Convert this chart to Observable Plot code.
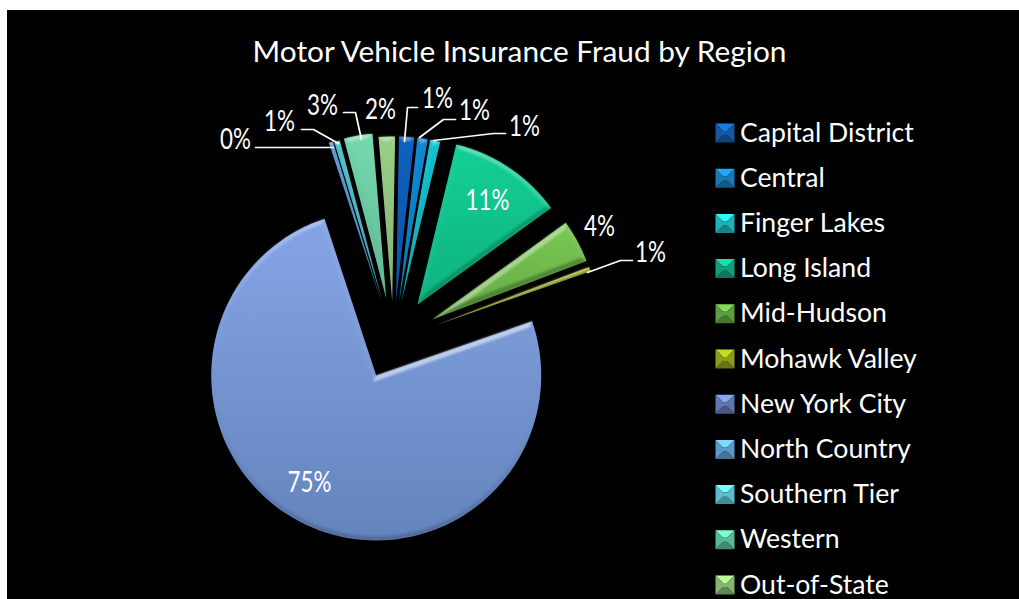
<!DOCTYPE html>
<html><head><meta charset="utf-8">
<script src="https://cdn.jsdelivr.net/npm/d3@7"></script>
<script src="https://cdn.jsdelivr.net/npm/@observablehq/plot@0.6"></script>
<style>
html,body{margin:0;padding:0;background:#fff}
svg{display:block}
</style></head><body><div id="chart"></div>
<script>
// Chart values, clockwise from just right of 12 o'clock
const regions = ["Capital District","Central","Finger Lakes","Long Island","Mid-Hudson","Mohawk Valley","New York City","North Country","Southern Tier","Western","Out-of-State"];
const shares  = [1.5,1.0,1.0,11.25,4.2,0.45,75.25,0.4,0.55,2.8,1.6];
const percentLabels = ["1%","1%","1%","11%","4%","1%","75%","0%","1%","3%","2%"];
const explosions = [39,39,39,43,44,44,39,43,42,43,39];
const colors = ["#0f62c0","#1189d6","#14c3d0","#12d096","#78c852","#a6b81e","#7f9fe2","#5c9bd8","#4fc3cc","#74d9ae","#9bd088"];
const swatchColors = ["#14589f","#1a78b4","#1fb0b8","#12a07c","#5e9c42","#8c9c1a","#5f76ac","#5a9aca","#5abccc","#58b898","#84b470"];
// Layout
const W=1019,H=599, cx=393, cy=340, R=165, startAngle=1, arcInset=4, sideInset=5;
const rad=d=>d*Math.PI/180;
const polar=(o,a,r)=>[o[0]+r*Math.sin(rad(a)),o[1]-r*Math.cos(rad(a))];
const total=d3.sum(shares);
let acc=startAngle;
const slices=regions.map((name,i)=>{
  const a0=acc,a1=acc+shares[i]/total*360;acc=a1;
  const mid=(a0+a1)/2,origin=polar([cx,cy],mid,explosions[i]);
  return {name,i,a0,a1,mid,origin};
});
const arcAngles=(a,b,step=2.5)=>{const n=Math.max(1,Math.ceil((b-a)/step));return d3.range(n+1).map(k=>a+(b-a)*k/n)};
const pieRows=[],facetRows=[];
let fid=0;
for(const s of slices){
  const h=(s.a1-s.a0)/2;
  const outer=arcAngles(s.a0,s.a1).map(a=>polar(s.origin,a,R));
  const d=Math.min(sideInset/Math.sin(rad(Math.min(h,179))),R-arcInset-2);
  const innerApex=polar(s.origin,s.mid,d);
  const delta=Math.min(sideInset/(R-arcInset),rad(h)*0.8)*180/Math.PI;
  const inner=arcAngles(s.a0,s.a1).map(a=>polar(s.origin,s.a0+delta+(a-s.a0)*(s.a1-s.a0-2*delta)/(s.a1-s.a0),R-arcInset));
  [s.origin,...outer].forEach(p=>pieRows.push({s:s.i,x:p[0],y:p[1]}));
  const addFacet=(p,q,pi,qi,k)=>{
    const dx=q[0]-p[0],L=Math.hypot(dx,q[1]-p[1])||1;
    const up=dx/L;
    const shade=up>0?"#ffffff":"#000000";
    const op=(up>0?0.6*up*up:0.3*up*up)*k;
    const id=fid++;
    [p,q,qi,pi].forEach(v=>facetRows.push({id,x:v[0],y:v[1],shade,op}));
  };
  addFacet(s.origin,outer[0],innerApex,inner[0],1);
  for(let k=0;k<outer.length-1;k++) addFacet(outer[k],outer[k+1],inner[k],inner[k+1],0.65);
  addFacet(outer[outer.length-1],s.origin,inner[inner.length-1],innerApex,1);
}
const leaders=[
 [[255,147],[333,147]],
 [[301,129],[313,129],[338,143]],
 [[343,112],[355,112],[361,139]],
 [[417,107],[407,107],[404,141]],
 [[455,119],[443,119],[419,137]],
 [[505,133],[493,133],[433,140]],
 [[632,260],[620,260],[587,272]]
].flatMap((l,id)=>l.map(p=>({id,x:p[0],y:p[1]})));
const labelSpots=[[437,99],[474,111],[524,127],[487,201],[599,227],[650,253],[309,483],[235,140],[279,122],[322,106],[380,110]];
const labelRows=percentLabels.map((t,i)=>({t,x:labelSpots[i][0],y:labelSpots[i][1]}));
const legendTop=132.5,legendStep=45.2,swX=724.5,swH=9.5;
const legendRows=regions.map((name,i)=>({name,y:legendTop+i*legendStep,x:739.5}));
const swRows=regions.flatMap((name,i)=>{
  const y=legendTop+i*legendStep,c=d3.color(swatchColors[i]);
  const e=7.5;
  const tl=[swX-swH,y-swH],tr=[swX+swH,y-swH],br=[swX+swH,y+swH],bl=[swX-swH,y+swH],
        itl=[swX-swH+e,y-swH+e],itr=[swX+swH-e,y-swH+e],ibr=[swX+swH-e,y+swH-e],ibl=[swX-swH+e,y+swH-e];
  const faces=[[[tl,tr,itr,itl],c.brighter(0.95)],[[tr,br,ibr,itr],c],[[br,bl,ibl,ibr],c.darker(0.8)],[[bl,tl,itl,ibl],c],[[itl,itr,ibr,ibl],c]];
  return faces.flatMap(([f,col],k)=>f.map(p=>({id:i*10+k,x:p[0],y:p[1],col:col.formatHex()})));
});
const gradients=()=>{
  const defs=d3.create("svg:defs");
  colors.forEach((c,i)=>{
    const g=defs.append("linearGradient").attr("id","pie"+i).attr("x1",0).attr("y1",0).attr("x2",0).attr("y2",1);
    const col=d3.color(c);
    g.append("stop").attr("offset","0%").attr("stop-color",i===6?"#84a4e6":col.formatHex());
    g.append("stop").attr("offset","100%").attr("stop-color",i===6?"#6484bc":col.darker(0.45).formatHex());
  });
  return defs.node();
};
// Percent labels are set in a tall, narrow face: condense each text element horizontally
const condense=(index,scales,values,dims,context,next)=>{
  const g=next(index,scales,values,dims,context);
  g.querySelectorAll("text").forEach(t=>t.setAttribute("transform",(t.getAttribute("transform")||"")+" scale(0.8,1)"));
  return g;
};
const chart=Plot.plot({
  width:W,height:H,margin:0,
  style:{background:"#fff"},
  x:{domain:[0,W],range:[0,W],axis:null},
  y:{domain:[0,H],range:[0,H],axis:null},
  color:{type:"identity"},
  marks:[
    gradients,
    Plot.rect([{}],{x1:()=>7,x2:()=>W,y1:()=>10,y2:()=>H,fill:"#000"}),
    ...slices.map(s=>Plot.line(pieRows.filter(r=>r.s===s.i),{x:"x",y:"y",fill:`url(#pie${s.i})`,stroke:"none",imageFilter:"blur(.3px)"})),
    Plot.line(facetRows,{x:"x",y:"y",z:"id",fill:"shade",fillOpacity:"op",stroke:"none",imageFilter:"blur(.8px)"}),
    Plot.line(leaders,{x:"x",y:"y",z:"id",stroke:"#fff",strokeWidth:1.7}),
    Plot.line(swRows,{x:"x",y:"y",z:"id",fill:"col",stroke:"none",imageFilter:"blur(.4px)"}),
    Plot.text(labelRows,{x:"x",y:"y",text:"t",fill:"#fff",fontSize:28,fontFamily:"Lato",textAnchor:"middle",lineAnchor:"middle",render:condense}),
    Plot.text(legendRows,{x:"x",y:"y",text:"name",fill:"#fff",fontSize:26.6,fontFamily:"Lato",textAnchor:"start",lineAnchor:"middle"}),
    Plot.text(["Motor Vehicle Insurance Fraud by Region"],{x:()=>519,y:()=>52,text:d=>d,fill:"#fff",fontSize:29.8,fontFamily:"Lato",textAnchor:"middle",lineAnchor:"middle"})
  ]
});
document.getElementById("chart").append(chart);
</script></body></html>
